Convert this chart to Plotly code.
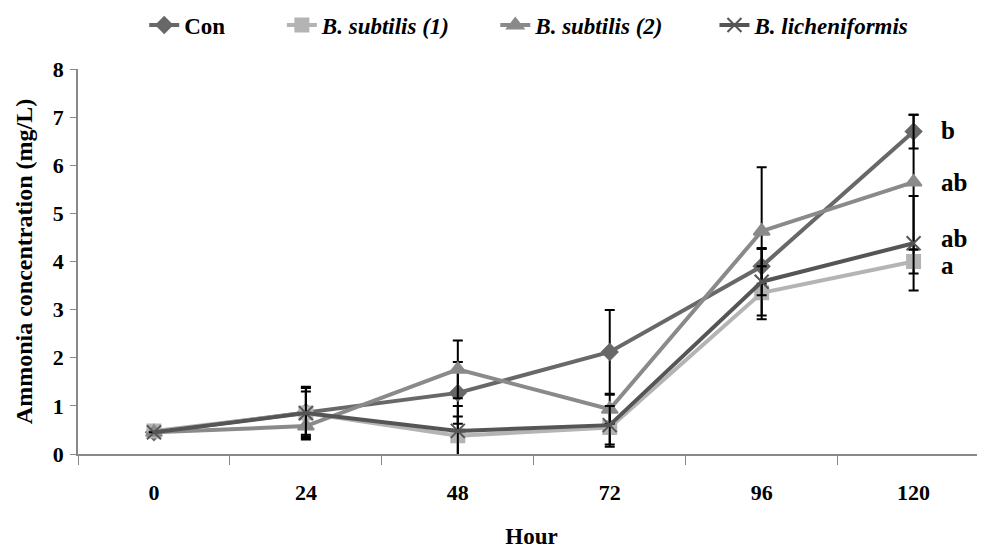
import plotly.graph_objects as go

hours = ["0", "24", "48", "72", "96", "120"]

con = [0.45, 0.87, 1.27, 2.12, 3.90, 6.70]
con_err = [0, 0.50, 0.64, 0.87, 0.36, 0.35]

bs1 = [0.48, 0.85, 0.38, 0.55, 3.35, 4.00]
bs1_err = [0, 0.55, 0.40, 0.40, 0.55, 0.25]

bs2 = [0.45, 0.58, 1.76, 0.93, 4.63, 5.65]
bs2_err = [0, 0.25, 0.60, 0.30, 1.33, 1.40]

lic = [0.45, 0.85, 0.48, 0.60, 3.58, 4.38]
lic_err = [0, 0.45, 0.52, 0.40, 0.70, 0.98]

letters = ["b", "ab", "ab", "a"]
letter_y = [6.72, 5.64, 4.47, 3.92]

nb = "&nbsp;"
series = [
    ("<b>Con" + nb * 9 + "</b>", con, con_err, "#686868", "diamond", 12),
    ("<b><i>B. subtilis (1)</i>" + nb * 7 + "</b>", bs1, bs1_err, "#b4b4b4", "square", 13),
    ("<b><i>B. subtilis (2)</i>" + nb * 8 + "</b>", bs2, bs2_err, "#8a8a8a", "triangle-up", 14),
    ("<b><i>B. licheniformis</i></b>", lic, lic_err, "#555555", "x-thin", 14),
]

font = "Liberation Serif"
fig = go.Figure()
for name, vals, err, col, sym, sz in series:
    fig.add_trace(go.Scatter(
        x=hours, y=vals, name=name, mode="lines+markers",
        line=dict(color=col, width=4),
        marker=dict(symbol=sym, size=sz, color=col,
                    line=dict(color=col, width=2)),
        error_y=dict(type="data", array=err, visible=True,
                     color="black", thickness=2, width=5),
    ))

for t, yv in zip(letters, letter_y):
    fig.add_annotation(x=5, y=yv, xref="x", yref="y", text="<b>%s</b>" % t,
                       showarrow=False, xshift=25, xanchor="left",
                       font=dict(family=font, size=25, color="black"))

fig.update_layout(
    width=985, height=555,
    paper_bgcolor="white", plot_bgcolor="white",
    margin=dict(l=70, r=8, t=61, b=109, autoexpand=False),
    font=dict(family=font, color="black"),
    showlegend=True,
    legend=dict(orientation="h", x=0.073, y=1.114, xanchor="left", yanchor="middle",
                font=dict(family=font, size=23, color="black"),
                itemwidth=30, tracegroupgap=0),
    xaxis=dict(type="category", range=[-0.5, 5.47], showline=True,
               linecolor="#888888", linewidth=1.5, ticks="outside",
               tickson="boundaries", ticklen=9, tickcolor="#888888",
               showgrid=False, zeroline=False, ticklabelstandoff=18,
               tickfont=dict(family=font, size=22, color="black"),
               title=dict(text="<b>Hour</b>", standoff=24,
                          font=dict(family=font, size=23, color="black"))),
    yaxis=dict(range=[0, 8], dtick=1, showline=True, linecolor="#888888",
               linewidth=1.5, ticks="outside", ticklen=6, tickcolor="#888888",
               showgrid=False, zeroline=False, ticklabelstandoff=2,
               tickfont=dict(family=font, size=22, color="black"),
               title=dict(text="<b>Ammonia concentration (mg/L)</b>", standoff=13,
                          font=dict(family=font, size=24, color="black"))),
)
fig.update_xaxes(tickprefix="<b>", ticksuffix="</b>")
fig.update_yaxes(tickprefix="<b>", ticksuffix="</b>")

fig.write_html("out.html")
